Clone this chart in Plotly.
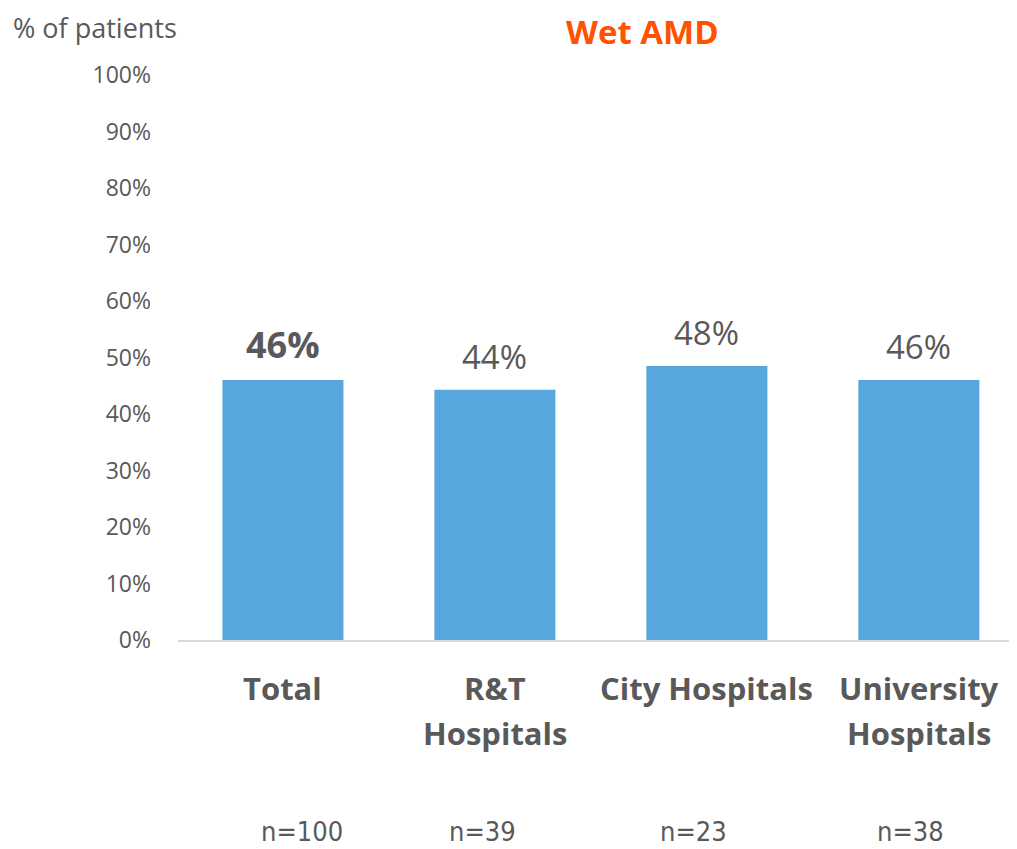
import plotly.graph_objects as go

categories = ["Total", "R&T<br>Hospitals", "City Hospitals", "University<br>Hospitals"]
values = [0.46, 0.443, 0.485, 0.46]
value_labels = ["46%", "44%", "48%", "46%"]
sample_sizes = ["n=100", "n=39", "n=23", "n=38"]
y_ticks = [i / 10 for i in range(11)]
y_tick_labels = [f"{i*10}%" for i in range(11)]

GREY = "#595959"
BAR = "#57A7DE"
FONT = "Open Sans, Lato, sans-serif"
NARROW = "Liberation Sans Narrow, DejaVu Sans Condensed, sans-serif"

# page geometry (body has an 8px margin)
FIG_W, FIG_H = 1009, 841
L, R, T, B = 170, 0, 67, 209
PLOT_W = FIG_W - L - R
PLOT_H = FIG_H - T - B


def px(xp):
    return (xp - 8 - L) / PLOT_W


def py(yp):
    return (FIG_H - B - (yp - 8)) / PLOT_H


fig = go.Figure()
fig.add_trace(go.Bar(
    x=categories, y=values, marker=dict(color=BAR, line=dict(width=0)),
    hoverinfo="skip",
))

for i, (c, v, t) in enumerate(zip(categories, values, value_labels)):
    fig.add_annotation(
        x=c, y=v, xref="x", yref="y", yanchor="bottom", yshift=9,
        text=f"<b>{t}</b>" if i == 0 else t, showarrow=False,
        font=dict(family=FONT, size=36 if i == 0 else 33, color=GREY),
    )

# category labels (two-line labels placed line by line)
for c in categories:
    for j, line in enumerate(c.split("<br>")):
        fig.add_annotation(
            x=c, y=py(688 + 45 * j), xref="x", yref="paper",
            yanchor="middle", showarrow=False, text=f"<b>{line}</b>",
            font=dict(family=FONT, size=31, color=GREY),
        )

for n, xc in zip(sample_sizes, [302, 482, 693, 910]):
    fig.add_annotation(
        x=px(xc), y=py(849), xref="paper", yref="paper",
        showarrow=False, text=n, xanchor="center", yanchor="bottom",
        font=dict(family=NARROW, size=27, color=GREY),
    )

fig.add_annotation(
    x=px(12), y=py(8), xref="paper", yref="paper", borderpad=0,
    xanchor="left", yanchor="top", showarrow=False, text="% of patients",
    font=dict(family=FONT, size=27, color=GREY),
)
fig.add_annotation(
    x=px(642), y=py(8), xref="paper", yref="paper", yanchor="top", borderpad=0,
    showarrow=False, text="<b>Wet AMD</b>",
    font=dict(family=FONT, size=33, color="#FF5100"),
)

fig.update_layout(
    width=FIG_W, height=FIG_H,
    margin=dict(l=L, r=R, t=T, b=B, autoexpand=False),
    paper_bgcolor="white", plot_bgcolor="white",
    bargap=0.429, showlegend=False,
    font=dict(family=FONT, color=GREY),
    xaxis=dict(
        showgrid=False, showline=True, linecolor="#D9D9D9", linewidth=2,
        showticklabels=False, ticks="",
        range=[-0.495, 3.463],
    ),
    yaxis=dict(
        range=[0, 1], tickvals=y_ticks, ticktext=y_tick_labels,
        showgrid=False, zeroline=False, showline=False, ticks="",
        tickfont=dict(family=FONT, size=23, color=GREY),
        ticklabelstandoff=26,
    ),
)

fig.write_html("out.html")
